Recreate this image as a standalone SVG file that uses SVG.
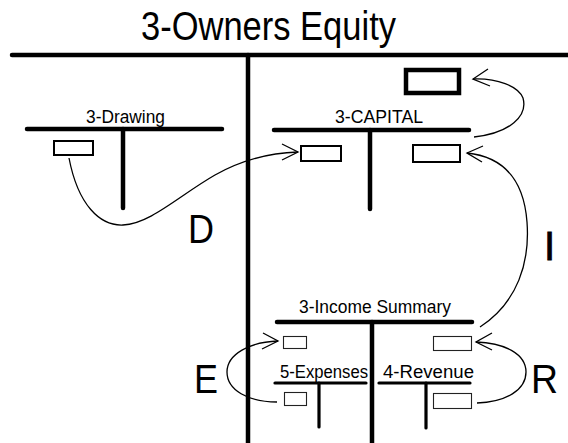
<svg xmlns="http://www.w3.org/2000/svg" width="568" height="443" viewBox="0 0 568 443">
  <style>
    .bar { stroke: #000; stroke-width: 4.5; stroke-linecap: round; fill: none; }
    .bar-sm { stroke: #000; stroke-width: 3.2; stroke-linecap: round; fill: none; }
    .box { fill: #fff; stroke: #000; stroke-width: 2; }
    .box-thin { fill: #fff; stroke: #222; stroke-width: 1.1; }
    .box-heavy { fill: #fff; stroke: #000; stroke-width: 4.5; }
    .flow { fill: none; stroke: #000; stroke-width: 1.3; }
    .lbl { font-family: "Liberation Sans", Arial, sans-serif; font-size: 17.5px; fill: #000; }
    .big { font-family: "Liberation Sans", Arial, sans-serif; font-size: 40px; fill: #000; }
  </style>
  <rect width="568" height="443" fill="#fff"/>

  <!-- Owners Equity T-account -->
  <g id="owners-equity">
    <text class="big" x="141" y="40" font-size="37" textLength="255" lengthAdjust="spacingAndGlyphs">3-Owners Equity</text>
    <line class="bar" x1="12" y1="55" x2="570" y2="55"/>
    <line class="bar" x1="248" y1="55" x2="248" y2="446"/>
  </g>

  <!-- Drawing account -->
  <g id="drawing">
    <text class="lbl" x="86" y="123" textLength="79" lengthAdjust="spacingAndGlyphs">3-Drawing</text>
    <line class="bar" x1="27" y1="129" x2="222" y2="129"/>
    <line class="bar" x1="123" y1="129" x2="123" y2="208"/>
    <rect class="box" x="54" y="141" width="39" height="14"/>
  </g>

  <!-- Capital account -->
  <g id="capital">
    <text class="lbl" x="335" y="123" textLength="88" lengthAdjust="spacingAndGlyphs">3-CAPITAL</text>
    <line class="bar" x1="274" y1="130" x2="469" y2="130"/>
    <line class="bar" x1="370" y1="130" x2="370" y2="209"/>
    <rect class="box" x="301" y="146" width="40" height="15"/>
    <rect class="box" x="413" y="145" width="47" height="17"/>
  </g>

  <!-- New capital balance -->
  <g id="capital-balance">
    <rect class="box-heavy" x="406" y="70" width="53" height="23"/>
  </g>

  <!-- Income Summary account -->
  <g id="income-summary">
    <text class="lbl" x="299" y="313" textLength="152" lengthAdjust="spacingAndGlyphs">3-Income Summary</text>
    <line class="bar" x1="277" y1="322" x2="472" y2="322"/>
    <line class="bar" x1="372" y1="322" x2="372" y2="446"/>
    <rect class="box-thin" x="283.5" y="336.5" width="23" height="12"/>
    <rect class="box-thin" x="433.5" y="336.5" width="38" height="14"/>
  </g>

  <!-- Expenses account -->
  <g id="expenses">
    <text class="lbl" x="280" y="378" font-size="16.5" textLength="88" lengthAdjust="spacingAndGlyphs">5-Expenses</text>
    <line class="bar-sm" x1="275" y1="383" x2="366" y2="383"/>
    <line class="bar-sm" x1="319" y1="383" x2="319" y2="427"/>
    <rect class="box-thin" x="284.5" y="392.5" width="22" height="13"/>
  </g>

  <!-- Revenue account -->
  <g id="revenue">
    <text class="lbl" x="383" y="378" font-size="16.5" textLength="91" lengthAdjust="spacingAndGlyphs">4-Revenue</text>
    <line class="bar-sm" x1="379" y1="383" x2="470" y2="383"/>
    <line class="bar-sm" x1="426" y1="383" x2="426" y2="428"/>
    <rect class="box-thin" x="433.5" y="393.5" width="38" height="15"/>
  </g>

  <!-- Closing entries: curved flows with open arrowheads -->
  <g id="connectors">
    <!-- D: drawing closed to capital -->
    <path class="flow" d="M69,158 C78,205 100,226 123,225 C150,224 180,195 215,175 C240,161 265,153 298,152"/>
    <path class="flow" d="M282,144 L298,152 L282,160"/>
    <!-- capital balance carried up -->
    <path class="flow" d="M474,137 C510,133 528,116 523,98 C518,86 497,78 473,79"/>
    <path class="flow" d="M488,69 L473,79 L490,86"/>
    <!-- I: income summary closed to capital -->
    <path class="flow" d="M480,327 C518,302 530,262 527,222 C524,182 505,157 467,153"/>
    <path class="flow" d="M483,146 L467,153 L482,162"/>
    <!-- E: expenses closed to income summary -->
    <path class="flow" d="M277,402 C248,402 227,390 227,372 C227,354 250,342 278,341"/>
    <path class="flow" d="M263,333 L278,341 L262,349"/>
    <!-- R: revenue closed to income summary -->
    <path class="flow" d="M477,403 C506,402 526,390 526,372 C526,354 505,343 476,342"/>
    <path class="flow" d="M492,333 L476,342 L492,350"/>

    <text class="big" x="188" y="243" textLength="26" lengthAdjust="spacingAndGlyphs">D</text>
    <text class="big" x="544" y="260" stroke="#000" stroke-width="0.8">I</text>
    <text class="big" x="194" y="393" textLength="24" lengthAdjust="spacingAndGlyphs">E</text>
    <text class="big" x="531" y="393" textLength="27" lengthAdjust="spacingAndGlyphs">R</text>
  </g>
</svg>
